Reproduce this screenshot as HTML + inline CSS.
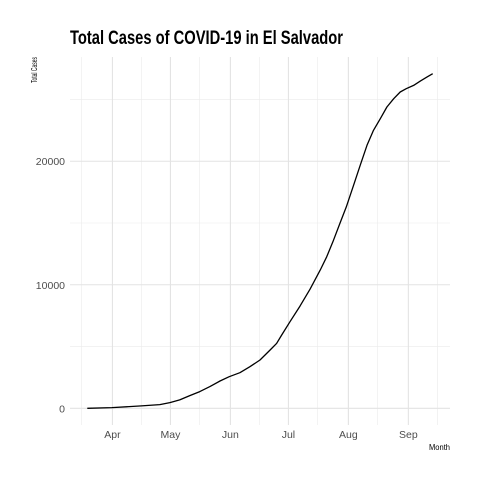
<!DOCTYPE html>
<html><head><meta charset="utf-8"><style>html,body{margin:0;padding:0;background:#fff}svg{display:block}</style></head>
<body>
<svg id="chart" width="480" height="480" xmlns="http://www.w3.org/2000/svg" font-family="Liberation Sans, sans-serif">
<rect width="480" height="480" fill="#fff"/>
<text x="70" y="44" font-size="19" font-weight="bold" fill="#000" textLength="273" lengthAdjust="spacingAndGlyphs">Total Cases of COVID-19 in El Salvador</text>
<text transform="translate(37,83) rotate(-90)" font-size="8" fill="#000" textLength="26" lengthAdjust="spacingAndGlyphs">Total Cases</text>
<text x="450" y="450" font-size="8" fill="#000" text-anchor="end" textLength="21" lengthAdjust="spacingAndGlyphs">Month</text>
<g id="grid"></g><g id="axes"></g><g id="series"></g>
</svg>
<script>
// days since 2020-03-19
const dayOffsets=[0,12.8,28,37.5,42.7,47.8,53,58.2,63.4,68.6,73.4,78.9,84.1,89.3,94.5,97.9,100.5,104.8,110,115.2,120.4,123.8,127.3,130.7,133.9,137.7,141.1,144.6,148,151.5,154.9,158.4,161.8,164.9,168.7,172.2,175.6,178.6];
const totalCases=[0,54,189,296,458,674,1024,1348,1752,2210,2560,2884,3369,3908,4716,5255,5929,7007,8274,9648,11184,12262,13610,15011,16305,18057,19674,21291,22503,23447,24390,25064,25603,25872,26142,26492,26815,27085];
const startDate="2020-03-19";
const yTicks=[0,10000,20000];
const yMinor=[5000,15000,25000];
const monthTicks=["2020-04-01","2020-05-01","2020-06-01","2020-07-01","2020-08-01","2020-09-01"];
const monthLabels=["Apr","May","Jun","Jul","Aug","Sep"];
const monthMinor=["2020-03-16","2020-04-16","2020-05-16","2020-06-16","2020-07-16","2020-08-16","2020-09-16"];

const NS="http://www.w3.org/2000/svg";
const L=70,R=450,T=57,B=425;
const DAY=86400000;
const t=s=>Date.parse(s+"T00:00:00Z")/DAY;
const ts=dayOffsets.map(o=>t(startDate)+o);
const x0=Math.min(...ts),x1=Math.max(...ts),xp=(x1-x0)*0.05;
const ymax=Math.max(...totalCases),yp=ymax*0.05;
const XN=n=>L+(n-(x0-xp))/((x1+xp)-(x0-xp))*(R-L);
const X=d=>XN(t(d));
const Y=v=>B-(v+yp)/(ymax+2*yp)*(B-T);
function mk(tag,attrs,parent){const e=document.createElementNS(NS,tag);for(const k in attrs)e.setAttribute(k,attrs[k]);document.getElementById(parent).appendChild(e);return e;}
yMinor.forEach(v=>{const e=mk("line",{x1:L,x2:R,y1:Y(v),y2:Y(v),stroke:"#ebebeb","stroke-width":0.6},"grid");

});
monthMinor.forEach(d=>{const e=mk("line",{x1:X(d),x2:X(d),y1:T,y2:B,stroke:"#ebebeb","stroke-width":0.6},"grid");

});
yTicks.forEach(v=>{const e=mk("line",{x1:L,x2:R,y1:Y(v),y2:Y(v),stroke:"#e3e3e3","stroke-width":1.1},"grid");


const tx=mk("text",{x:65,y:Y(v)+4,"font-size":10.5,fill:"#4d4d4d","text-anchor":"end"},"axes");tx.textContent=v;

});
monthTicks.forEach((d,i)=>{const e=mk("line",{x1:X(d),x2:X(d),y1:T,y2:B,stroke:"#e3e3e3","stroke-width":1.1},"grid");


const tx=mk("text",{x:X(d),y:438,"font-size":10.5,fill:"#4d4d4d","text-anchor":"middle"},"axes");tx.textContent=monthLabels[i];

});
const p=mk("path",{d:ts.map((n,i)=>(i?"L":"M")+XN(n).toFixed(1)+","+Y(totalCases[i]).toFixed(1)).join(""),fill:"none",stroke:"#000","stroke-width":1.3,"stroke-linejoin":"round"},"series");


</script>
</body></html>
